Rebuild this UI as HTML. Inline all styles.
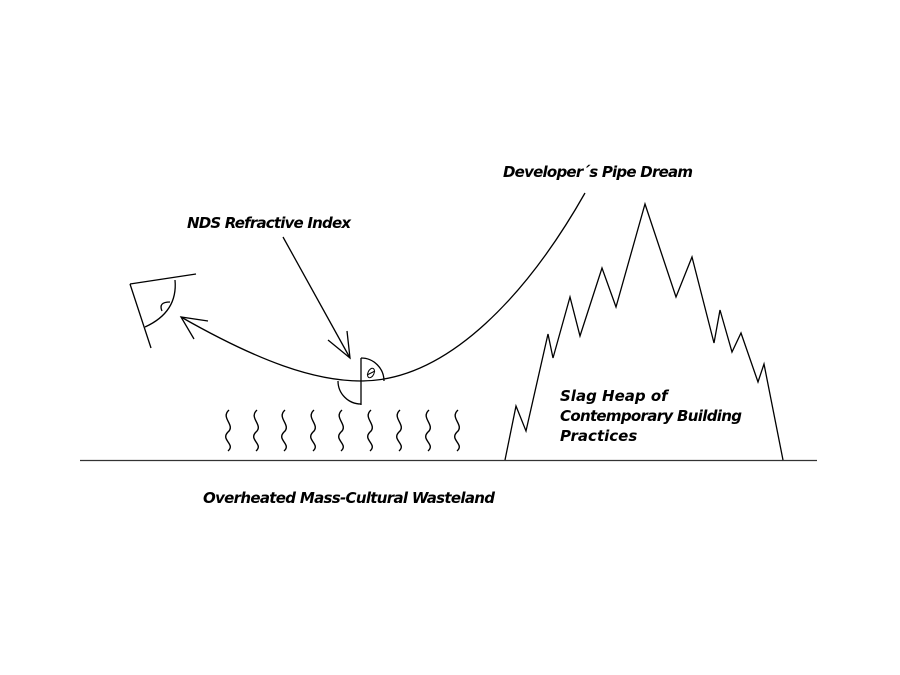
<!DOCTYPE html>
<html><head><meta charset="utf-8"><style>
html,body{margin:0;padding:0;background:#fff;width:900px;height:675px;overflow:hidden}
svg text{font-family:"DejaVu Sans","Liberation Sans",sans-serif;font-style:italic;font-weight:bold;font-size:15px;fill:#000}
</style></head><body>
<svg width="900" height="675" viewBox="0 0 900 675" xmlns="http://www.w3.org/2000/svg">
<g fill="none" stroke="#000" stroke-width="1.3">
<line x1="80" y1="460.5" x2="817" y2="460.5" stroke="#333"/>
<polyline points="505,460 516,406 526,431 548,334 553,358 570,297 580,336 602,268 616,307 645,204 676,297 692,257 714,343 720,310 732,352 741,333 758,382 764,364 783,460"/>
<path d="M181,317 C260,362 315,381 361,381 C450,381 530,290 585,193"/>
<polyline points="208,321 181,317 194,339"/>
<line x1="283" y1="237" x2="350" y2="358"/>
<polyline points="328,340 350,358 347,331"/>
<line x1="130" y1="284" x2="196" y2="274"/>
<line x1="130" y1="284" x2="151" y2="348"/>
<path d="M175,280 Q178,312 145,327"/>
<path d="M162,311 Q158,302 170,302"/>
<line x1="361" y1="358" x2="361" y2="405"/>
<path d="M361,358 A23,23 0 0 1 384,381"/>
<path d="M338,381 A23,23 0 0 0 361,404"/>
<ellipse cx="371" cy="373" rx="3" ry="5" transform="rotate(25 371 373)" stroke-width="1"/>
<line x1="367" y1="375" x2="375" y2="371" stroke-width="1"/>
<g id="w" stroke-width="1.4"><path d="M229,410 C220,418 236,425 228,432 C220,440 236,444 228,451"/></g>
<use href="#w" x="28"/><use href="#w" x="56"/><use href="#w" x="85"/><use href="#w" x="113"/><use href="#w" x="142"/><use href="#w" x="171"/><use href="#w" x="200"/><use href="#w" x="229"/>
</g>
<text x="503" y="177" textLength="190">Developer´s Pipe Dream</text>
<text x="187" y="228" textLength="164">NDS Refractive Index</text>
<text x="560" y="401">Slag Heap of</text>
<text x="560" y="421" textLength="182">Contemporary Building</text>
<text x="560" y="441">Practices</text>
<text x="203" y="503" textLength="292">Overheated Mass-Cultural Wasteland</text>
</svg>
</body></html>
